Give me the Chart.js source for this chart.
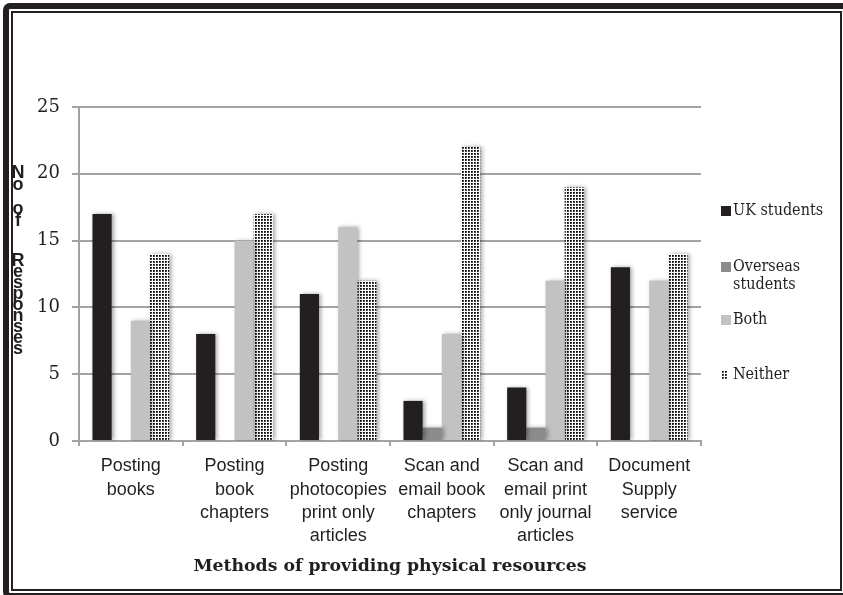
<!DOCTYPE html>
<html><head><meta charset="utf-8">
<script src="https://cdn.jsdelivr.net/npm/chart.js@4.4.1/dist/chart.umd.min.js"></script>
<style>
html,body{margin:0;padding:0;width:843px;height:595px;overflow:hidden;background:#fff;}
#wrap{position:relative;width:843px;height:595px;}
#c{position:absolute;left:0;top:0;}
.outer{position:absolute;left:3px;top:3px;width:836px;height:584px;border:6px solid #231f20;border-radius:7px;pointer-events:none;}
.inner{position:absolute;left:11px;top:11px;width:827px;height:576px;border:2px solid #231f20;pointer-events:none;}
</style></head><body>
<div id="wrap"><canvas id="c" width="843" height="595"></canvas><div class="outer"></div><div class="inner"></div></div>
<script>
// ---- data ----
const categories = [
  ["Posting","books"],
  ["Posting","book","chapters"],
  ["Posting","photocopies","print only","articles"],
  ["Scan and","email book","chapters"],
  ["Scan and","email print","only journal","articles"],
  ["Document","Supply","service"]
];
const seriesNames = ["UK students","Overseas students","Both","Neither"];
const ukStudents = [17, 8, 11, 3, 4, 13];
const overseasStudents = [0, 0, 0, 1, 1, 0];
const bothValues = [9, 15, 16, 8, 12, 12];
const neitherValues = [14, 17, 12, 22, 19, 14];
const yTickValues = [0, 5, 10, 15, 20, 25];
const yTitle = "No of Responses";
const xTitle = "Methods of providing physical resources";

// ---- styles ----
const INK = '#231f20';
const colUK = '#231f20', colOver = '#8c8c8c', colBoth = '#c2c2c2';
const canvas = document.getElementById('c');
const mainCtx = canvas.getContext('2d');
function dotPattern(){
  const t = document.createElement('canvas'); t.width = 3; t.height = 3;
  const g = t.getContext('2d');
  g.fillStyle = '#fff'; g.fillRect(0,0,3,3);
  g.fillStyle = '#000'; g.fillRect(0,0,1.8,1.8);
  return mainCtx.createPattern(t, 'repeat');
}
const neitherFill = dotPattern();

const shadowPlugin = {
  id: 'barShadow',
  beforeDatasetsDraw(chart){
    const ctx = chart.ctx; ctx.save();
    ctx.shadowColor = 'rgba(0,0,0,0.35)'; ctx.shadowBlur = 4; ctx.shadowOffsetX = 2; ctx.shadowOffsetY = 0;
  },
  afterDatasetsDraw(chart){ chart.ctx.restore(); }
};

const yTitlePlugin = {
  id: 'yTitleStack',
  afterDraw(chart){
    const ctx = chart.ctx; ctx.save();
    ctx.font = 'bold 18px "Liberation Sans", Arial, sans-serif';
    ctx.fillStyle = INK; ctx.textAlign = 'center'; ctx.textBaseline = 'middle';
    const ys = [173,185,null,209,221,null,261,272,283,294,305,316,327,338,349];
    const chars = yTitle.split('');
    chars.forEach((ch,i)=>{ if (ch !== ' ' && ys[i] != null) ctx.fillText(ch, 18, ys[i]); });
    ctx.restore();
  }
};

const legendPlugin = {
  id: 'sideLegend',
  afterDraw(chart){
    const ctx = chart.ctx; ctx.save();
    ctx.font = '16px "DejaVu Serif Condensed", "DejaVu Serif", serif';
    ctx.textAlign = 'left'; ctx.textBaseline = 'middle'; 
    const items = [
      {lines:["UK students"], y:[211], fill: colUK},
      {lines:["Overseas","students"], y:[267,285], fill: colOver},
      {lines:["Both"], y:[320], fill: colBoth},
      {lines:["Neither"], y:[375], fill: 'dots'}
    ];
    items.forEach(it=>{
      const by = it.y[0];
      if (it.fill === 'dots') {
        ctx.fillStyle = '#111';
        for (let r=0;r<3;r++) for (let c=0;c<2;c++) ctx.fillRect(722+c*3, by-4+r*3, 1.8, 1.8);
      } else {
        ctx.fillStyle = it.fill; ctx.fillRect(721, by-5, 10, 10);
      }
      ctx.fillStyle = INK;
      it.lines.forEach((ln,j)=>ctx.fillText(ln, 733, it.y[j]));
    });
    ctx.restore();
  }
};

const gridGray = '#a3a3a3';
new Chart(canvas, {
  type: 'bar',
  data: {
    labels: categories,
    datasets: [
      {label: seriesNames[0], data: ukStudents, backgroundColor: colUK},
      {label: seriesNames[1], data: overseasStudents, backgroundColor: colOver},
      {label: seriesNames[2], data: bothValues, backgroundColor: colBoth},
      {label: seriesNames[3], data: neitherValues, backgroundColor: neitherFill}
    ]
  },
  options: {
    responsive: false,
    animation: false,
    devicePixelRatio: 1,
    layout: {padding: {left: 0, right: 142, top: 107, bottom: 0}},
    datasets: {bar: {categoryPercentage: 0.74, barPercentage: 1.0, borderWidth: 0}},
    plugins: {legend: {display: false}, tooltip: {enabled: false}, title: {display: false}},
    scales: {
      x: {
        grid: {drawOnChartArea: false, offset: true, tickLength: 5, color: gridGray, lineWidth: 2},
        border: {color: gridGray, width: 2},
        ticks: {color: INK, padding: 9, maxRotation: 0, autoSkip: false,
          font: {family: '"Liberation Sans Narrow", "Arial Narrow", "Liberation Sans", Arial, sans-serif', size: 18, lineHeight: 1.28}},
        title: {display: true, text: xTitle, color: INK,
          font: {family: '"DejaVu Serif", serif', size: 17.3, weight: 'bold', lineHeight: 1.2}, padding: {top: 0, bottom: 18}},
        afterFit(scale){ scale.height = 154; }
      },
      y: {
        min: 0, max: 25,
        afterBuildTicks(scale){ scale.ticks = yTickValues.map(v=>({value: v})); },
        grid: {color: gridGray, lineWidth: 2, tickLength: 7},
        border: {color: gridGray, width: 2},
        ticks: {color: INK, padding: 12, font: {family: '"DejaVu Serif", serif', size: 18}},
        afterFit(scale){ scale.width = 79; }
      }
    }
  },
  plugins: [shadowPlugin, yTitlePlugin, legendPlugin]
});
</script>
</body></html>
